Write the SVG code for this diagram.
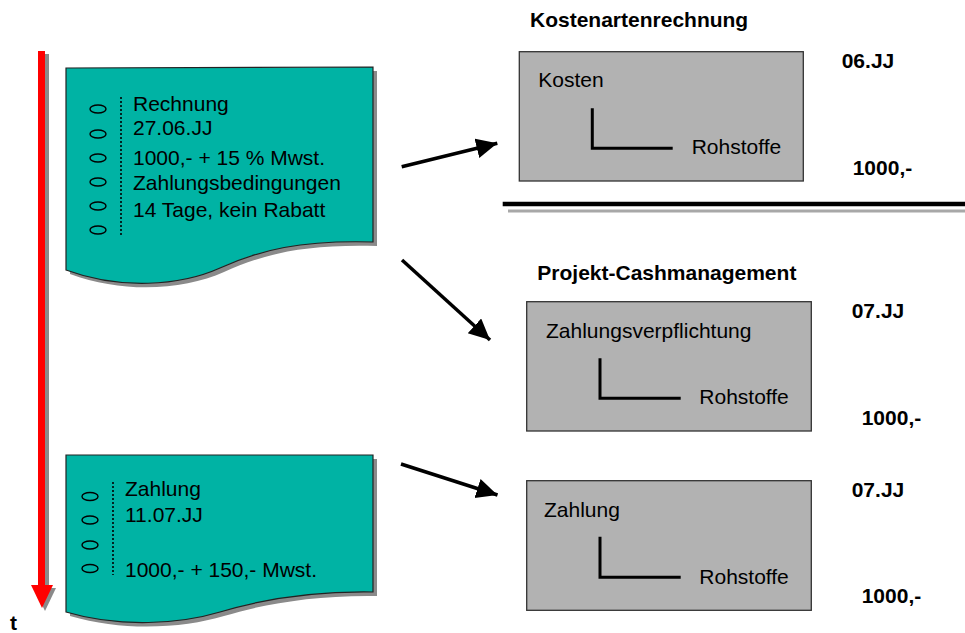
<svg xmlns="http://www.w3.org/2000/svg" width="965" height="633" viewBox="0 0 965 633">
<defs>
<style>
text{font-family:"Liberation Sans",Arial,sans-serif;font-size:21px;fill:#000}
.b{font-weight:bold}
.doc{fill:#00B3A4;stroke:#222;stroke-width:1.2}
.shadow{fill:#8a8a8a}
.hole{fill:none;stroke:#000;stroke-width:1.4}
.dots{stroke:#000;stroke-width:1.6;stroke-dasharray:2,2}
.box{fill:#B2B2B2;stroke:#333;stroke-width:1.3}
.tree{fill:none;stroke:#000;stroke-width:3}
.conn{stroke:#000;stroke-width:3.5;fill:none}
</style>
<marker id="ah" markerUnits="userSpaceOnUse" markerWidth="24" markerHeight="24" refX="21" refY="10" orient="auto" viewBox="0 0 24 24">
<path d="M0,0 L21,10 L0,20 z" fill="#000"/>
</marker>
</defs>
<rect width="965" height="633" fill="#fff"/>

<g id="timeline">
<rect x="42" y="54" width="7" height="534" fill="#8a8a8a"/>
<polygon points="34,588 56,588 45,611" fill="#8a8a8a"/>
<rect x="38" y="51" width="7" height="534" fill="#ff0000"/>
<polygon points="31,585 53,585 42,608" fill="#ff0000"/>
<text class="b" x="10" y="630">t</text>
</g>

<g id="doc-rechnung">
<path class="shadow" d="M70,72 L377,71 L377,246 C304,244 264,254 224,272 C184,290 124,294 70,274 Z"/>
<path class="doc" d="M66,68 L373,67 L373,242 C300,240 260,250 220,268 C180,286 120,290 66,270 Z"/>
<ellipse class="hole" cx="98" cy="109" rx="8" ry="4"/>
<ellipse class="hole" cx="98" cy="134" rx="8" ry="4"/>
<ellipse class="hole" cx="98" cy="158" rx="8" ry="4"/>
<ellipse class="hole" cx="98" cy="182" rx="8" ry="4"/>
<ellipse class="hole" cx="98" cy="206" rx="8" ry="4"/>
<ellipse class="hole" cx="98" cy="230" rx="8" ry="4"/>
<line class="dots" x1="121" y1="97" x2="121" y2="235"/>
<text x="133" y="110.5">Rechnung</text>
<text x="133" y="134.5">27.06.JJ</text>
<text x="133" y="165">1000,- + 15 % Mwst.</text>
<text x="133" y="190">Zahlungsbedingungen</text>
<text x="133" y="216.5">14 Tage, kein Rabatt</text>
</g>

<g id="doc-zahlung">
<path class="shadow" d="M70,459 L377,459 L377,596 C314,595 264,604 224,616 C184,628 124,632 70,616 Z"/>
<path class="doc" d="M66,455 L373,455 L373,592 C310,591 260,600 220,612 C180,624 120,628 66,612 Z"/>
<ellipse class="hole" cx="90" cy="496.5" rx="8" ry="4"/>
<ellipse class="hole" cx="90" cy="520" rx="8" ry="4"/>
<ellipse class="hole" cx="90" cy="545" rx="8" ry="4"/>
<ellipse class="hole" cx="90" cy="568.5" rx="8" ry="4"/>
<line class="dots" x1="113" y1="482" x2="113" y2="575"/>
<text x="125" y="496">Zahlung</text>
<text x="125" y="521.5">11.07.JJ</text>
<text x="125" y="576.5">1000,- + 150,- Mwst.</text>
</g>

<g id="kostenartenrechnung">
<text class="b" x="530" y="26.5">Kostenartenrechnung</text>
<rect class="box" x="519.3" y="51.7" width="284" height="129.3"/>
<text x="538.3" y="87.3">Kosten</text>
<polyline class="tree" points="592.3,108.3 592.3,148.3 672.7,148.3"/>
<text x="691.7" y="154">Rohstoffe</text>
<text class="b" x="841.7" y="68.3">06.JJ</text>
<text class="b" x="852.7" y="175">1000,-</text>
</g>

<g id="separator">
<line x1="502.7" y1="204" x2="965" y2="204" stroke="#000" stroke-width="4.5"/>
<line x1="508" y1="211" x2="965" y2="211" stroke="#a8a8a8" stroke-width="3"/>
</g>

<g id="cashmanagement-verpflichtung">
<text class="b" x="537.3" y="280">Projekt-Cashmanagement</text>
<rect class="box" x="526.7" y="301.7" width="284.6" height="129.3"/>
<text x="546" y="338.3">Zahlungsverpflichtung</text>
<polyline class="tree" points="600,358.3 600,398.3 680.7,398.3"/>
<text x="699.3" y="404.3">Rohstoffe</text>
<text class="b" x="851.7" y="318.3">07.JJ</text>
<text class="b" x="861.7" y="425">1000,-</text>
</g>

<g id="cashmanagement-zahlung">
<rect class="box" x="526.7" y="480.7" width="284.6" height="129.6"/>
<text x="544" y="516.7">Zahlung</text>
<polyline class="tree" points="600,536.7 600,577.3 680.7,577.3"/>
<text x="699.3" y="583.5">Rohstoffe</text>
<text class="b" x="851.7" y="496.7">07.JJ</text>
<text class="b" x="861.7" y="603.3">1000,-</text>
</g>

<g id="connectors">
<line class="conn" x1="401.7" y1="166.7" x2="497.3" y2="143.3" marker-end="url(#ah)"/>
<line class="conn" x1="402" y1="260" x2="490" y2="340" marker-end="url(#ah)"/>
<line class="conn" x1="401" y1="464" x2="497.5" y2="495" marker-end="url(#ah)"/>
</g>
</svg>
